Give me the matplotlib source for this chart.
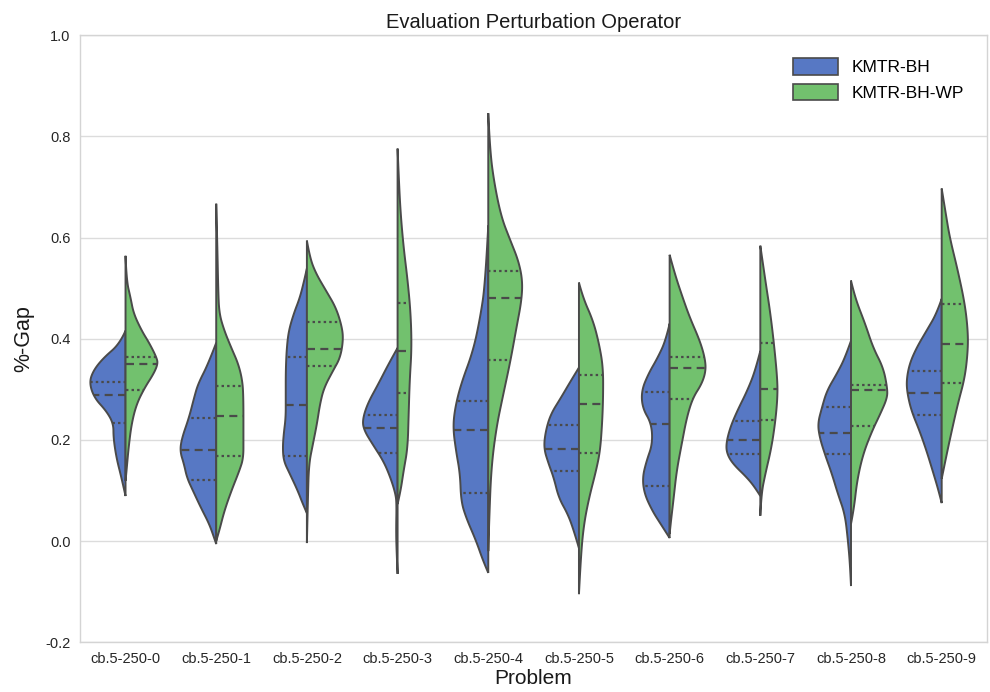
import numpy as np
import matplotlib
matplotlib.use("Agg")
import matplotlib.pyplot as plt
from matplotlib.patches import Patch

PROBLEMS = [f"cb.5-250-{i}" for i in range(10)]
SERIES = ["KMTR-BH", "KMTR-BH-WP"]
COLORS = ["#5778C4", "#72C16E"]

# KDE outlines per problem: %-Gap levels (top -> bottom) and relative density
BH_Y = [
    [0.416, 0.390, 0.362, 0.337, 0.313, 0.283, 0.257, 0.232, 0.204, 0.164, 0.125, 0.089],
    [0.392, 0.350, 0.311, 0.283, 0.244, 0.204, 0.178, 0.152, 0.125, 0.099, 0.065, 0.034, 0.006, -0.006],
    [0.539, 0.515, 0.481, 0.450, 0.416, 0.382, 0.337, 0.283, 0.244, 0.212, 0.184, 0.158, 0.133, 0.099, 0.073, 0.055],
    [0.382, 0.350, 0.311, 0.271, 0.238, 0.218, 0.192, 0.158, 0.125, 0.093, 0.073, 0.020, -0.020, -0.065],
    [0.624, 0.509, 0.442, 0.376, 0.311, 0.263, 0.224, 0.178, 0.133, 0.079, 0.046, 0.000, -0.040, -0.063],
    [0.343, 0.317, 0.283, 0.251, 0.218, 0.184, 0.152, 0.125, 0.085, 0.053, 0.020, -0.014],
    [0.430, 0.396, 0.362, 0.331, 0.297, 0.263, 0.232, 0.192, 0.158, 0.125, 0.093, 0.059, 0.034, 0.006],
    [0.376, 0.337, 0.297, 0.257, 0.224, 0.192, 0.172, 0.152, 0.125, 0.105, 0.089],
    [0.396, 0.362, 0.331, 0.297, 0.263, 0.232, 0.204, 0.172, 0.133, 0.093, 0.053, 0.000, -0.046, -0.089],
    [0.479, 0.450, 0.416, 0.382, 0.350, 0.317, 0.291, 0.257, 0.218, 0.178, 0.139, 0.099, 0.075],
]
BH_DENS = [
    [0, 5.7, 22, 32, 36, 31, 19, 12, 12, 9, 4, 0],
    [0, 8, 18, 22, 27, 34, 36, 32, 29, 23, 15, 7, 2, 0],
    [0, 2.7, 7, 13, 18, 20, 21, 21, 21, 23, 24, 23, 17, 9, 4, 0],
    [0, 9, 19, 30, 35, 33, 25, 14, 7, 2, 1, 1.5, 1, 0],
    [0, 3, 8, 15, 27, 33, 35, 32, 28, 27, 22, 12, 5, 0],
    [0, 8, 18, 28, 33, 35, 30, 25, 20, 11, 5, 0],
    [0, 4, 12, 21, 28, 27, 18, 17, 23, 27, 25, 17, 9, 0],
    [0, 5, 13, 23, 30, 34, 33, 27, 13, 5, 0],
    [0, 6, 14, 24, 29, 33, 31, 26, 19, 13, 6, 3, 1, 0],
    [0, 5, 15, 25, 32, 35, 34, 30, 22, 15, 9, 3, 0],
]
# lower quartile, median, upper quartile
BH_QUART = [
    [0.234, 0.289, 0.315],
    [0.121, 0.180, 0.243],
    [0.168, 0.269, 0.364],
    [0.174, 0.224, 0.249],
    [0.095, 0.220, 0.277],
    [0.139, 0.182, 0.230],
    [0.109, 0.232, 0.295],
    [0.172, 0.200, 0.238],
    [0.172, 0.214, 0.265],
    [0.249, 0.293, 0.337],
]

WP_Y = [
    [0.564, 0.515, 0.481, 0.450, 0.416, 0.390, 0.362, 0.350, 0.331, 0.303, 0.271, 0.232, 0.184, 0.139, 0.119],
    [0.667, 0.594, 0.495, 0.450, 0.416, 0.382, 0.350, 0.317, 0.283, 0.204, 0.164, 0.139, 0.099, 0.059, 0.020, 0.000],
    [0.594, 0.560, 0.529, 0.495, 0.461, 0.422, 0.396, 0.362, 0.337, 0.303, 0.271, 0.232, 0.192, 0.152, 0.085, -0.004],
    [0.776, 0.713, 0.648, 0.580, 0.515, 0.450, 0.382, 0.317, 0.251, 0.184, 0.139, 0.099, 0.073],
    [0.846, 0.772, 0.707, 0.640, 0.594, 0.554, 0.515, 0.475, 0.422, 0.356, 0.291, 0.224, 0.145, 0.046, -0.020],
    [0.511, 0.481, 0.436, 0.390, 0.343, 0.283, 0.232, 0.178, 0.139, 0.085, 0.034, -0.026, -0.105],
    [0.566, 0.529, 0.481, 0.442, 0.396, 0.362, 0.337, 0.311, 0.283, 0.244, 0.192, 0.139, 0.085, 0.034, 0.014],
    [0.584, 0.515, 0.450, 0.382, 0.317, 0.283, 0.238, 0.184, 0.133, 0.093, 0.050],
    [0.515, 0.481, 0.430, 0.382, 0.343, 0.303, 0.283, 0.251, 0.218, 0.172, 0.119, 0.065, 0.034],
    [0.697, 0.648, 0.600, 0.535, 0.469, 0.416, 0.376, 0.323, 0.271, 0.218, 0.172, 0.123],
]
WP_DENS = [
    [0, 1, 5, 8, 16, 24, 31, 32, 28, 19, 11, 6, 3, 1, 0],
    [0, 1, 2, 3, 8, 15, 22, 26, 27, 27, 27, 23, 15, 8, 3, 0],
    [0, 3, 9, 19, 29, 35, 36, 33, 26, 17, 13, 10, 6, 2, 1, 0],
    [0, 1.3, 3, 6, 10, 13, 14, 12, 11, 10, 6, 3, 0],
    [0, 1.7, 6, 13, 22, 30, 34, 33, 28, 22, 15, 8, 3, 1, 0],
    [0, 4, 14, 20, 24, 24, 23, 21, 17, 10, 5, 2, 0],
    [0, 5, 13, 20, 30, 35, 36, 32, 23, 17, 12, 7, 4, 1, 0],
    [0, 5, 10, 14, 17, 17, 15, 11, 5, 1, 0],
    [0, 4, 14, 22, 32, 36, 36, 29, 21, 12, 6, 3, 0],
    [0, 4, 8, 16, 23, 26, 26, 23, 16, 10, 5, 0],
]
WP_QUART = [
    [0.299, 0.350, 0.364],
    [0.168, 0.248, 0.307],
    [0.347, 0.380, 0.434],
    [0.293, 0.376, 0.470],
    [0.358, 0.481, 0.533],
    [0.174, 0.271, 0.329],
    [0.281, 0.342, 0.363],
    [0.240, 0.301, 0.392],
    [0.228, 0.299, 0.309],
    [0.313, 0.390, 0.469],
]

EDGE = "#4a4a4a"
HALF_WIDTH = 0.4  # widest half-violin, in category units


def smooth_outline(ys, ws, steps=16):
    """Quadratic Bezier through the midpoints of the outline points."""
    p = np.column_stack([ws, ys]).astype(float)
    if len(p) < 3:
        return p[:, 1], p[:, 0]
    mids = (p[1:-2] + p[2:-1]) / 2
    starts = np.vstack([p[:1], mids])
    ctrls = p[1:-1]
    ends = np.vstack([mids, p[-1:]])
    t = np.linspace(0, 1, steps)[:, None, None]
    curve = (1 - t) ** 2 * starts + 2 * (1 - t) * t * ctrls + t ** 2 * ends
    curve = curve.transpose(1, 0, 2).reshape(-1, 2)
    return curve[:, 1], curve[:, 0]


def half_violin(ax, center, ys, dens, quart, color, side, scale):
    y, w = smooth_outline(ys, np.asarray(dens) * scale)
    x = center + side * w
    ax.fill(np.r_[x, center], np.r_[y, y[0]], facecolor=color,
            edgecolor=EDGE, linewidth=1.4, zorder=2)
    # quartile lines run from the centre out to the density edge
    dotted = (0, (1.1, 1.4))
    dashed = (0, (3.6, 2.4))
    for q, ls in zip(quart, [dotted, dashed, dotted]):
        wq = np.interp(q, y[::-1], w[::-1])
        ax.plot([center, center + side * wq], [q, q], color=EDGE,
                linewidth=1.6, linestyle=ls, zorder=3)


plt.rcParams["font.family"] = ["Liberation Sans", "DejaVu Sans"]

fig = plt.figure(figsize=(9.9, 6.92), dpi=100)
ax = fig.add_axes([0.081, 0.072, 0.916, 0.877])

scale = HALF_WIDTH / max(max(d) for d in BH_DENS + WP_DENS)
for i in range(len(PROBLEMS)):
    half_violin(ax, i, BH_Y[i], BH_DENS[i], BH_QUART[i], COLORS[0], -1, scale)
    half_violin(ax, i, WP_Y[i], WP_DENS[i], WP_QUART[i], COLORS[1], 1, scale)

ax.set_xlim(-0.5, len(PROBLEMS) - 0.5)
ax.set_ylim(-0.2, 1.0)
ax.set_xticks(range(len(PROBLEMS)))
ax.set_xticklabels(PROBLEMS)
yt = np.arange(-0.2, 1.01, 0.2)
ax.set_yticks(yt)
ax.set_yticklabels([f"{v:.1f}".replace("\u2212", "-") for v in yt])
ax.tick_params(length=0, labelsize=10.5, colors="#262626", pad=7)
ax.grid(axis="y", color="#dcdcdc", linewidth=1.0, zorder=0)
ax.set_axisbelow(True)
for sp in ax.spines.values():
    sp.set_color("#d4d4d4")
    sp.set_linewidth(1.0)

ax.set_title("Evaluation Perturbation Operator", fontsize=14.5, color="#1a1a1a", pad=5)
ax.set_xlabel("Problem", fontsize=15, color="#1a1a1a", labelpad=2)
ax.set_ylabel("%-Gap", fontsize=15.5, color="#1a1a1a", labelpad=8)

handles = [Patch(facecolor=c, edgecolor=EDGE, linewidth=1.2) for c in COLORS]
ax.legend(handles, SERIES, loc="upper right", frameon=False, fontsize=12.5,
          handlelength=2.6, handleheight=1.1, borderaxespad=0.9, labelspacing=0.5)

fig.savefig("out.png", dpi=100)
